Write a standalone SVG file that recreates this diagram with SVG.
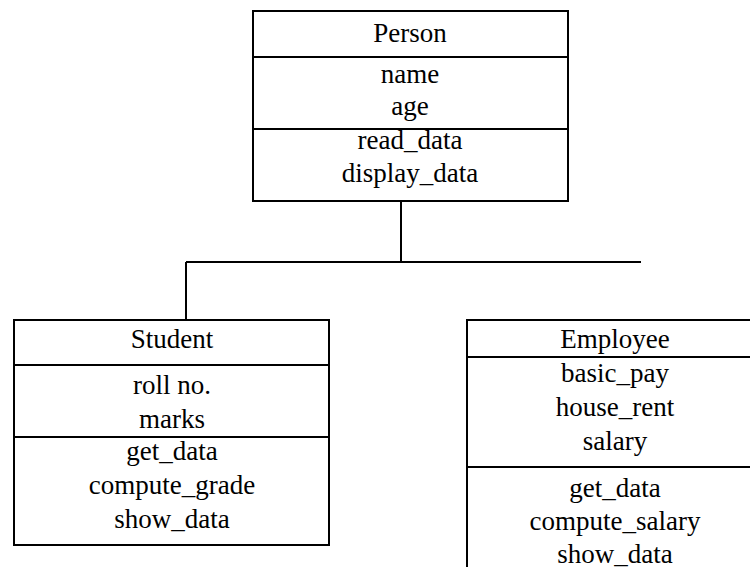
<svg xmlns="http://www.w3.org/2000/svg" width="750" height="567" viewBox="0 0 750 567">
<style>
.box{fill:#fff;stroke:#000;stroke-width:2}
.sep{stroke:#000;stroke-width:2}
.conn{fill:none;stroke:#000;stroke-width:2}
.t{font-family:'Liberation Serif','Times New Roman','DejaVu Serif',serif;font-size:27px;fill:#000;text-anchor:middle}
</style>
<rect width="750" height="567" fill="#fff"/>
<g id="connectors">
<path class="conn" d="M401 201 V262 M186 262 H641 M186 262 V320"/>
</g>
<g id="person" class="t">
<rect class="box" x="253" y="11" width="315" height="190"/>
<line class="sep" x1="253" y1="57" x2="568" y2="57"/>
<line class="sep" x1="253" y1="129" x2="568" y2="129"/>
<text x="410" y="42">Person</text>
<text x="410" y="83">name</text>
<text x="410" y="115">age</text>
<text x="410" y="149">read_data</text>
<text x="410" y="182">display_data</text>
</g>
<g id="student" class="t">
<rect class="box" x="14" y="320" width="315" height="225"/>
<line class="sep" x1="14" y1="365" x2="329" y2="365"/>
<line class="sep" x1="14" y1="437" x2="329" y2="437"/>
<text x="172" y="348">Student</text>
<text x="172" y="394">roll no.</text>
<text x="172" y="428">marks</text>
<text x="172" y="460">get_data</text>
<text x="172" y="494">compute_grade</text>
<text x="172" y="528">show_data</text>
</g>
<g id="employee" class="t">
<rect class="box" x="467" y="320" width="320" height="280"/>
<line class="sep" x1="467" y1="357" x2="787" y2="357"/>
<line class="sep" x1="467" y1="467" x2="787" y2="467"/>
<text x="615" y="348">Employee</text>
<text x="615" y="382">basic_pay</text>
<text x="615" y="416">house_rent</text>
<text x="615" y="450">salary</text>
<text x="615" y="497">get_data</text>
<text x="615" y="530">compute_salary</text>
<text x="615" y="563">show_data</text>
</g>
</svg>
